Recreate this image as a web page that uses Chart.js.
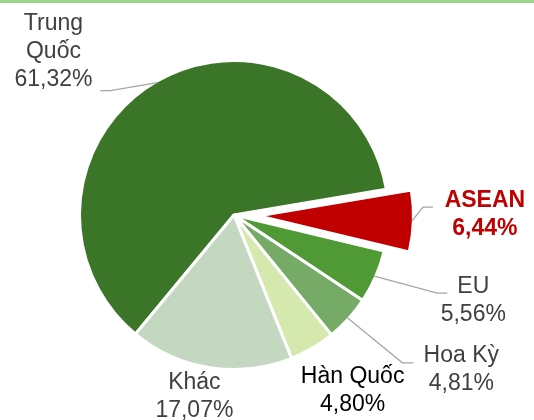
<!DOCTYPE html>
<html>
<head>
<meta charset="utf-8">
<script src="https://cdn.jsdelivr.net/npm/chart.js@4"></script>
<style>
    html, body { margin: 0; padding: 0; background: #fff; }
    #wrap { position: relative; width: 534px; height: 420px; overflow: hidden; }
    #wrap canvas { position: absolute; left: 0; top: 0; }
    #topBar { position: absolute; left: 0; top: 0; width: 534px; height: 3px; background: #9dd68a; }
</style>
</head>
<body>
<div id="wrap">
    <canvas id="shareChart" width="534" height="420"></canvas>
    <div id="topBar"></div>
</div>
<script>
// Data
const categories = ['Trung Quốc', 'ASEAN', 'EU', 'Hoa Kỳ', 'Hàn Quốc', 'Khác'];
const shares = [61.32, 6.44, 5.56, 4.81, 4.80, 17.07];

// Styles
const sliceColors = ['#3b7528', '#c00000', '#509a36', '#76ab67', '#d5e8ad', '#c3d7c1'];
const explode = [0, 25, 0, 0, 0, 0];
const labelColors = ['#404040', '#c00000', '#404040', '#404040', '#000000', '#404040'];
const labelBold = [false, true, false, false, false, false];
const wrapName = [true, false, false, false, false, false];
// label centre relative to the rim point at the slice's mid angle
const labelShift = [
    { dx: -104, dy: -33 },
    { dx: 73, dy: -8 },
    { dx: 99, dy: 23 },
    { dx: 114, dy: 50 },
    { dx: 41, dy: 42 },
    { dx: -16, dy: 29 }
];
// leader elbow / end relative to the label centre
const leaders = [
    { ex: 57, ey: 41, tx: 47 },
    { ex: -62, ey: -6, tx: -52 },
    { ex: -36, ey: -6, tx: -26 },
    { ex: -59, ey: -5, tx: -48 },
    null,
    null
];

const FONT_FAMILY = '"Liberation Sans", Arial, sans-serif';
const FONT_SIZE = 23;
const LINE_HEIGHT = 28;

function formatShare(v) {
    return v.toFixed(2).replace('.', ',') + '%';
}

// Pull exploded slices out along their mid angle
const explodePlugin = {
    id: 'explodeSlices',
    afterDatasetUpdate(chart, args) {
        args.meta.data.forEach((arc, i) => {
            const d = explode[i];
            if (!d) return;
            const mid = (arc.startAngle + arc.endAngle) / 2;
            arc.x += Math.cos(mid) * d;
            arc.y += Math.sin(mid) * d;
        });
    }
};

// Category + percentage labels with leader lines
const labelPlugin = {
    id: 'sliceLabels',
    afterDraw(chart) {
        const ctx = chart.ctx;
        const arcs = chart.getDatasetMeta(0).data;
        ctx.save();
        arcs.forEach((arc, i) => {
            const mid = (arc.startAngle + arc.endAngle) / 2;
            const r = arc.outerRadius - 1.5;
            const rimX = arc.x + Math.cos(mid) * r;
            const rimY = arc.y + Math.sin(mid) * r;
            const cx = rimX + labelShift[i].dx;
            const cy = rimY + labelShift[i].dy;

            const lead = leaders[i];
            if (lead) {
                ctx.beginPath();
                ctx.strokeStyle = '#a6a6a6';
                ctx.lineWidth = 1.3;
                ctx.moveTo(rimX, rimY);
                ctx.lineTo(cx + lead.ex, cy + lead.ey);
                ctx.lineTo(cx + lead.tx, cy + lead.ey);
                ctx.stroke();
            }

            const lines = wrapName[i] ? categories[i].split(' ') : [categories[i]];
            lines.push(formatShare(shares[i]));

            ctx.font = (labelBold[i] ? 'bold ' : '') + FONT_SIZE + 'px ' + FONT_FAMILY;
            ctx.fillStyle = labelColors[i];
            ctx.textAlign = 'center';
            ctx.textBaseline = 'alphabetic';
            const first = cy - (lines.length - 1) * LINE_HEIGHT / 2 + 8;
            lines.forEach((t, k) => ctx.fillText(t, cx, first + k * LINE_HEIGHT));
        });
        ctx.restore();
    }
};

const ctx = document.getElementById('shareChart').getContext('2d');
new Chart(ctx, {
    type: 'pie',
    data: {
        labels: categories,
        datasets: [{
            data: shares,
            backgroundColor: sliceColors,
            borderColor: '#ffffff',
            borderWidth: 3,
            rotation: 219.6,
            radius: 154.5
        }]
    },
    options: {
        responsive: false,
        animation: false,
        events: [],
        rotation: 219.6,
        radius: 154.5,
        layout: { padding: { left: 0, right: 66, top: 10, bottom: 0 } },
        plugins: {
            legend: { display: false },
            tooltip: { enabled: false }
        }
    },
    plugins: [explodePlugin, labelPlugin]
});
</script>
</body>
</html>
